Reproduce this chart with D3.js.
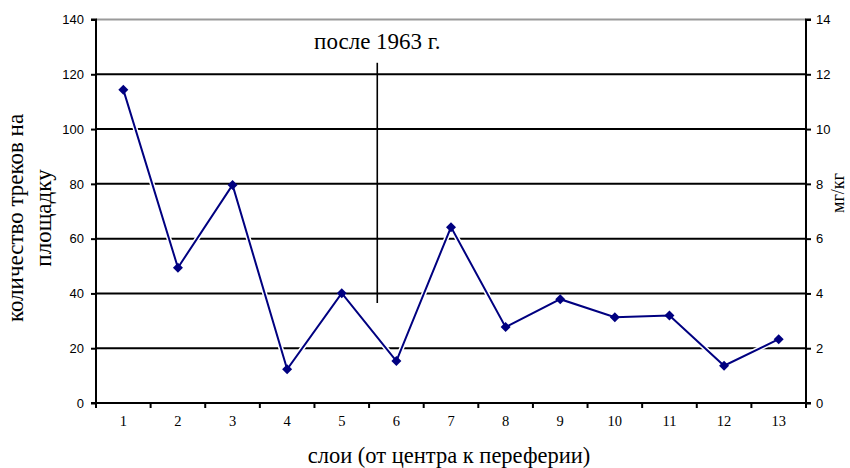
<!DOCTYPE html>
<html>
<head>
<meta charset="utf-8">
<script src="https://cdn.jsdelivr.net/npm/d3@7"></script>
<style>
  html, body { margin: 0; padding: 0; background: #fff; }
  svg { display: block; }
</style>
</head>
<body>
<svg id="chart" width="850" height="468"></svg>
<script>
// ---- data ----
const layers = ["1","2","3","4","5","6","7","8","9","10","11","12","13"];
const tracks = [114.4, 49.4, 79.6, 12.3, 40.1, 15.3, 64.2, 27.7, 37.9, 31.3, 31.9, 13.6, 23.3];
const leftTicks = [0, 20, 40, 60, 80, 100, 120, 140];
const rightTicks = [0, 2, 4, 6, 8, 10, 12, 14];
const annotationText = "после 1963 г.";
const annotationLayer = 5.65;      // between layers 5 and 6
const annotationRange = [36.5, 124.2];
const xTitle = "слои (от центра к переферии)";
const yTitleLines = ["количество треков на", "площадку"];
const y2Title = ["мг", "/", "кг"];

// ---- layout ----
const svg = d3.select("#chart");
const L = 96, R = 806, T = 19.5, B = 403;
const serif = "'Liberation Serif', 'Times New Roman', serif";
const sans = "'Liberation Sans', Arial, sans-serif";

const x = d3.scaleBand().domain(layers).range([L, R]).paddingInner(0).paddingOuter(0);
const xl = d3.scaleLinear().domain([0.5, 13.5]).range([L, R]);
const y = d3.scaleLinear().domain([0, 140]).range([B, T]);
const y2 = d3.scaleLinear().domain([0, 14]).range([B, T]);

// gridlines
svg.append("g").selectAll("line")
  .data(leftTicks.filter(d => d > 0))
  .join("line")
  .attr("x1", L).attr("x2", R)
  .attr("y1", d => y(d)).attr("y2", d => y(d))
  .attr("stroke", d => d === 140 ? "#9a9a9a" : "#000")
  .attr("stroke-width", 2);

// annotation line
svg.append("line")
  .attr("x1", xl(annotationLayer)).attr("x2", xl(annotationLayer))
  .attr("y1", y(annotationRange[1])).attr("y2", y(annotationRange[0]))
  .attr("stroke", "#000").attr("stroke-width", 1.6);

svg.append("text")
  .attr("x", xl(annotationLayer)).attr("y", 49)
  .attr("text-anchor", "middle")
  .attr("font-family", serif)
  .attr("font-size", 23)
  .attr("fill", "#000")
  .text(annotationText);

// left axis
const yAxis = d3.axisLeft(y).tickValues(leftTicks).tickSize(5).tickPadding(7).tickFormat(d3.format("d"));
const gy = svg.append("g").attr("transform", `translate(${L},0)`).call(yAxis);
gy.select(".domain").attr("stroke", "#000").attr("stroke-width", 2).attr("d", `M-5,${B}H0V${T}H-5`);
gy.selectAll(".tick line").attr("stroke", "#000").attr("stroke-width", 2);
gy.selectAll(".tick text").attr("font-family", sans).attr("font-size", 13).attr("fill", "#000");

// right axis
const y2Axis = d3.axisRight(y2).tickValues(rightTicks).tickSize(5).tickPadding(5).tickFormat(d3.format("d"));
const gy2 = svg.append("g").attr("transform", `translate(${R},0)`).call(y2Axis);
gy2.select(".domain").attr("stroke", "#000").attr("stroke-width", 2).attr("d", `M5,${B}H0V${T}H5`);
gy2.selectAll(".tick line").attr("stroke", "#000").attr("stroke-width", 2);
gy2.selectAll(".tick text").attr("font-family", sans).attr("font-size", 13).attr("fill", "#000");

// bottom axis
const xAxis = d3.axisBottom(x).tickSize(0).tickPadding(13);
const gx = svg.append("g").attr("transform", `translate(0,${B})`).call(xAxis);
gx.select(".domain").attr("stroke", "#000").attr("stroke-width", 2).attr("d", `M${L},0H${R}`);
gx.selectAll(".tick text").attr("font-family", serif).attr("font-size", 14.5).attr("fill", "#000");
// boundary ticks
svg.append("g").selectAll("line")
  .data(d3.range(layers.length + 1))
  .join("line")
  .attr("x1", i => L + i * x.step()).attr("x2", i => L + i * x.step())
  .attr("y1", B).attr("y2", B + 5)
  .attr("stroke", "#000").attr("stroke-width", 2);

// series
const line = d3.line().x((d, i) => x(layers[i]) + x.bandwidth() / 2).y(d => y(d));
svg.append("path").datum(tracks).attr("d", line)
  .attr("fill", "none").attr("stroke", "#fff").attr("stroke-width", 5);
svg.append("path").datum(tracks).attr("d", line)
  .attr("fill", "none").attr("stroke", "#000080").attr("stroke-width", 2);
svg.append("g").selectAll("path")
  .data(tracks)
  .join("path")
  .attr("transform", (d, i) => `translate(${x(layers[i]) + x.bandwidth() / 2},${y(d)})`)
  .attr("d", "M0,-5L5,0L0,5L-5,0Z")
  .attr("fill", "#000080");

// axis titles
svg.append("text")
  .attr("x", 449).attr("y", 463)
  .attr("text-anchor", "middle")
  .attr("font-family", serif)
  .attr("font-size", 22.5)
  .attr("fill", "#000")
  .text(xTitle);

const yt = svg.append("text")
  .attr("transform", "translate(0,218) rotate(-90)")
  .attr("text-anchor", "middle")
  .attr("font-family", serif)
  .attr("font-size", 23)
  .attr("fill", "#000");
yt.selectAll("tspan").data(yTitleLines).join("tspan")
  .attr("x", 0).attr("y", (d, i) => i === 0 ? 23 : 51)
  .text(d => d);

const y2t = svg.append("text")
  .attr("transform", "translate(844,193) rotate(-90)")
  .attr("text-anchor", "middle")
  .attr("font-family", serif)
  .attr("font-size", 18)
  .attr("fill", "#000");
y2t.selectAll("tspan").data(y2Title).join("tspan")
  .text(d => d);
</script>
</body>
</html>
